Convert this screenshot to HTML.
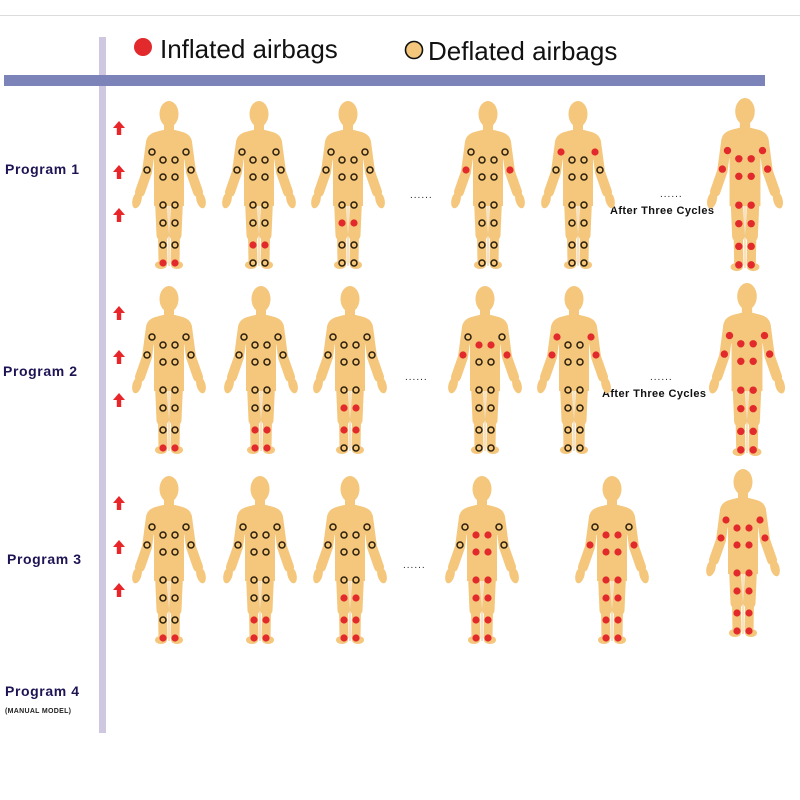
<!DOCTYPE html>
<html><head><meta charset="utf-8"><style>
html,body{margin:0;padding:0;background:#fff}
svg{display:block}
.p{font-family:"Liberation Sans",sans-serif;font-weight:bold;fill:#1e1454;font-size:14px;letter-spacing:0.6px}
.atc{font-family:"Liberation Sans",sans-serif;font-weight:bold;fill:#111;font-size:11px;letter-spacing:0.4px}
.dots{font-family:"Liberation Sans",sans-serif;fill:#222;font-size:10px;letter-spacing:1px}
.lg{font-family:"Liberation Sans",sans-serif;fill:#111;font-size:26px}
</style></head><body>
<svg id="s" width="800" height="800" viewBox="0 0 800 800" xmlns="http://www.w3.org/2000/svg">
<defs>
<g id="body" fill="#F4C77C" stroke="none">
<ellipse cx="0" cy="14" rx="9.5" ry="13"/>
<rect x="-5" y="22" width="10" height="14"/>
<path d="M-6,30 C-12,32 -23,32 -23,44 L-15,60 L-15,106 L15,106 L15,60 L23,44 C23,32 12,32 6,30 Z"/>
<g fill="none" stroke="#F4C77C" stroke-linecap="round" stroke-linejoin="round">
<polyline points="-18,42 -22,72 -29,92" stroke-width="10"/>
<polyline points="18,42 22,72 29,92" stroke-width="10"/>
<polyline points="-8,100 -6.5,135" stroke-width="12"/>
<polyline points="8,100 6.5,135" stroke-width="12"/>
<polyline points="-6.5,135 -6,162" stroke-width="9"/>
<polyline points="6.5,135 6,162" stroke-width="9"/>
</g>
<ellipse cx="-32" cy="100" rx="4.5" ry="8.5" transform="rotate(15 -32 100)"/>
<ellipse cx="32" cy="100" rx="4.5" ry="8.5" transform="rotate(-15 32 100)"/>
<ellipse cx="-8" cy="165" rx="6" ry="4"/>
<ellipse cx="8" cy="165" rx="6" ry="4"/>
<rect x="-0.4" y="106" width="0.8" height="60" fill="#e9b868"/>
</g>
<g id="arr" fill="#e8262a"><polygon points="0,-7 6,0 2.2,0 2.2,7 -2.2,7 -2.2,0 -6,0"/></g>
</defs>
<line x1="0" y1="15.5" x2="800" y2="15.5" stroke="#dcdcdc" stroke-width="1"/>
<rect x="99" y="37" width="7" height="696" fill="#cfc6df"/>
<rect x="4" y="75" width="761" height="11" fill="#7c83b9"/>
<circle cx="143" cy="47" r="9" fill="#e2292b"/>
<text class="lg" x="160" y="58">Inflated airbags</text>
<circle cx="414" cy="50" r="8.5" fill="#F4C77C" stroke="#111" stroke-width="1.6"/>
<text class="lg" x="428" y="60">Deflated airbags</text>
<text class="p" x="5" y="174">Program 1</text>
<text class="p" x="3" y="376">Program 2</text>
<text class="p" x="7" y="564">Program 3</text>
<text class="p" x="5" y="696">Program 4</text>
<text x="5" y="713" style="font-family:'Liberation Sans',sans-serif;font-weight:bold;font-size:7px;fill:#222;letter-spacing:0.3px">(MANUAL MODEL)</text>
<text class="dots" x="410" y="198">......</text>
<text class="dots" x="405" y="380">......</text>
<text class="dots" x="403" y="568">......</text>
<text class="dots" x="660" y="197">......</text>
<text class="dots" x="650" y="380">......</text>
<text class="atc" x="610" y="214">After Three Cycles</text>
<text class="atc" x="602" y="397">After Three Cycles</text>
<g id="figs"></g>
</svg>
<script>
var P={ua:[17,52],ch:[6,60],el:[22,70],be:[6,77],th:[6,105],kn:[6,123],ca:[6,145],ft:[6,163]};
var ALL=["ua","ch","el","be","th","kn","ca","ft"];
var rows=[
 {y:100,f:[[169,["ft"]],[259,["ca"]],[348,["kn"]],[488,["el"]],[578,["ua"]],[745,ALL,1.03,-3]]},
 {y:285,f:[[169,["ft"]],[261,["ca","ft"]],[350,["kn","ca"]],[485,["ch","el"]],[574,["ua","el"]],[747,ALL,1.03,-3]]},
 {y:475,f:[[169,["ft"]],[260,["ca","ft"]],[350,["kn","ca","ft"]],[482,["ch","be","th","kn","ca","ft"]],[612,["el","ch","be","th","kn","ca","ft"]],[743,ALL,1.0,-7]]}
];
var h="";
rows.forEach(function(r,ri){
 [r.y+28,r.y+72,r.y+115].forEach(function(ay){h+='<use href="#arr" x="119" y="'+ay+'"/>';});
 r.f.forEach(function(f){
  var cx=f[0],red=f[1],sc=f[2]||1,dy=f[3]||0,ty=r.y+dy;
  h+='<g transform="translate('+cx+','+ty+') scale('+sc+')"><use href="#body"/>';
  ALL.forEach(function(k){
   var on=red.indexOf(k)>=0;
   [-1,1].forEach(function(s){
    var x=s*P[k][0],y=P[k][1];
    if(on)h+='<circle cx="'+x+'" cy="'+y+'" r="3.6" fill="#e2292b"/>';
    else h+='<circle cx="'+x+'" cy="'+y+'" r="3" fill="#F4C77C" stroke="#2a1e0a" stroke-width="1.5"/>';
   });
  });
  h+='</g>';
 });
});
document.getElementById("figs").innerHTML=h;
</script>
</body></html>
